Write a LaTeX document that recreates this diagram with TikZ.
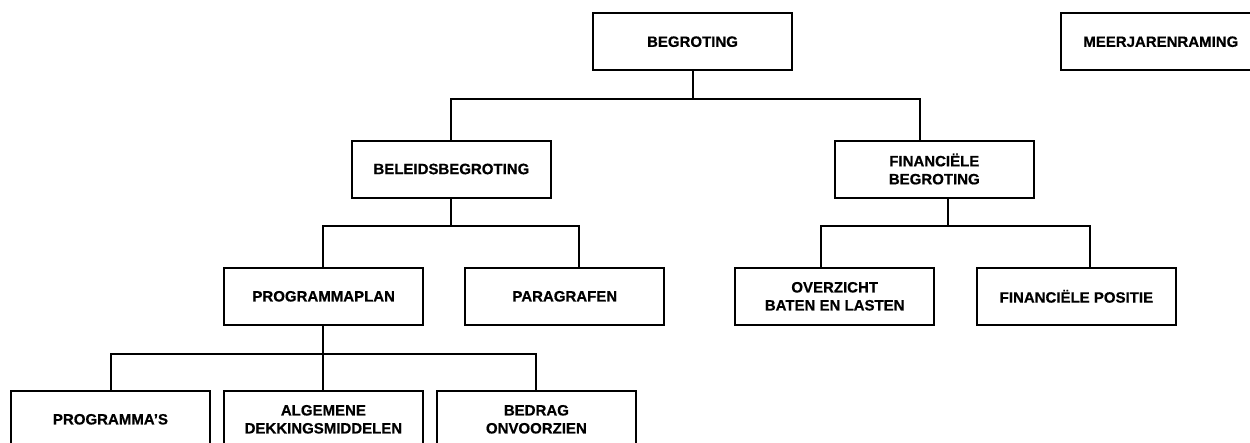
\documentclass[tikz,border=0pt]{standalone}
\usepackage{fontspec}
\setmainfont{Liberation Sans}[BoldFeatures={FakeBold=0.6}]
\begin{document}
\begin{tikzpicture}[x=1pt,y=-1pt,
  box/.style={draw=black, line width=2pt, fill=white, minimum width=199pt, minimum height=57pt,
    inner sep=0pt, align=center, font=\fontsize{15}{18}\selectfont\bfseries},
  conn/.style={draw=black, line width=2pt}]
\useasboundingbox (0,0) rectangle (1250,442);
\clip (0,0) rectangle (1250,442);
\fill[white] (0,0) rectangle (1250,442);
% nodes
\node[box] (beg)  at (692.5,41.7)  {BEGROTING};
\node[box] (meer) at (1160.8,41.7) {MEERJARENRAMING};
\node[box] (bel)  at (451.4,169)   {BELEIDSBEGROTING};
\node[box] (fin)  at (934.3,169)   {FINANCIËLE\\BEGROTING};
\node[box] (pplan) at (323.7,296.3) {PROGRAMMAPLAN};
\node[box] (par)  at (564.8,296.3) {PARAGRAFEN};
\node[box] (ovz)  at (834.7,296.3) {OVERZICHT\\BATEN EN LASTEN};
\node[box] (fpos) at (1076.4,296.3) {FINANCIËLE POSITIE};
\node[box] (prg)  at (110.5,419.3) {PROGRAMMA’S};
\node[box] (alg)  at (323.4,419.3) {ALGEMENE\\DEKKINGSMIDDELEN};
\node[box] (bed)  at (536.4,419.3) {BEDRAG\\ONVOORZIEN};
% connectors
\draw[conn] (beg.south) -- ++(0,27.7) coordinate (b1);
\draw[conn] (bel.north) |- (b1) -| ([xshift=-14pt]fin.north);
\draw[conn] (bel.south) -- ++(0,27.7) coordinate (b2);
\draw[conn] ([xshift=-1pt]pplan.north) |- (b2) -| ([xshift=14pt]par.north);
\draw[conn] ([xshift=14pt]fin.south) -- ++(0,27.7) coordinate (b3);
\draw[conn] ([xshift=-14pt]ovz.north) |- (b3) -| ([xshift=14pt]fpos.north);
\draw[conn] ([xshift=-1pt]pplan.south) -- ++(0,27.7) coordinate (b4);
\draw[conn] (b4) -- (alg.north -| b4);
\draw[conn] (prg.north) |- (b4) -| (bed.north);
\end{tikzpicture}
\end{document}
